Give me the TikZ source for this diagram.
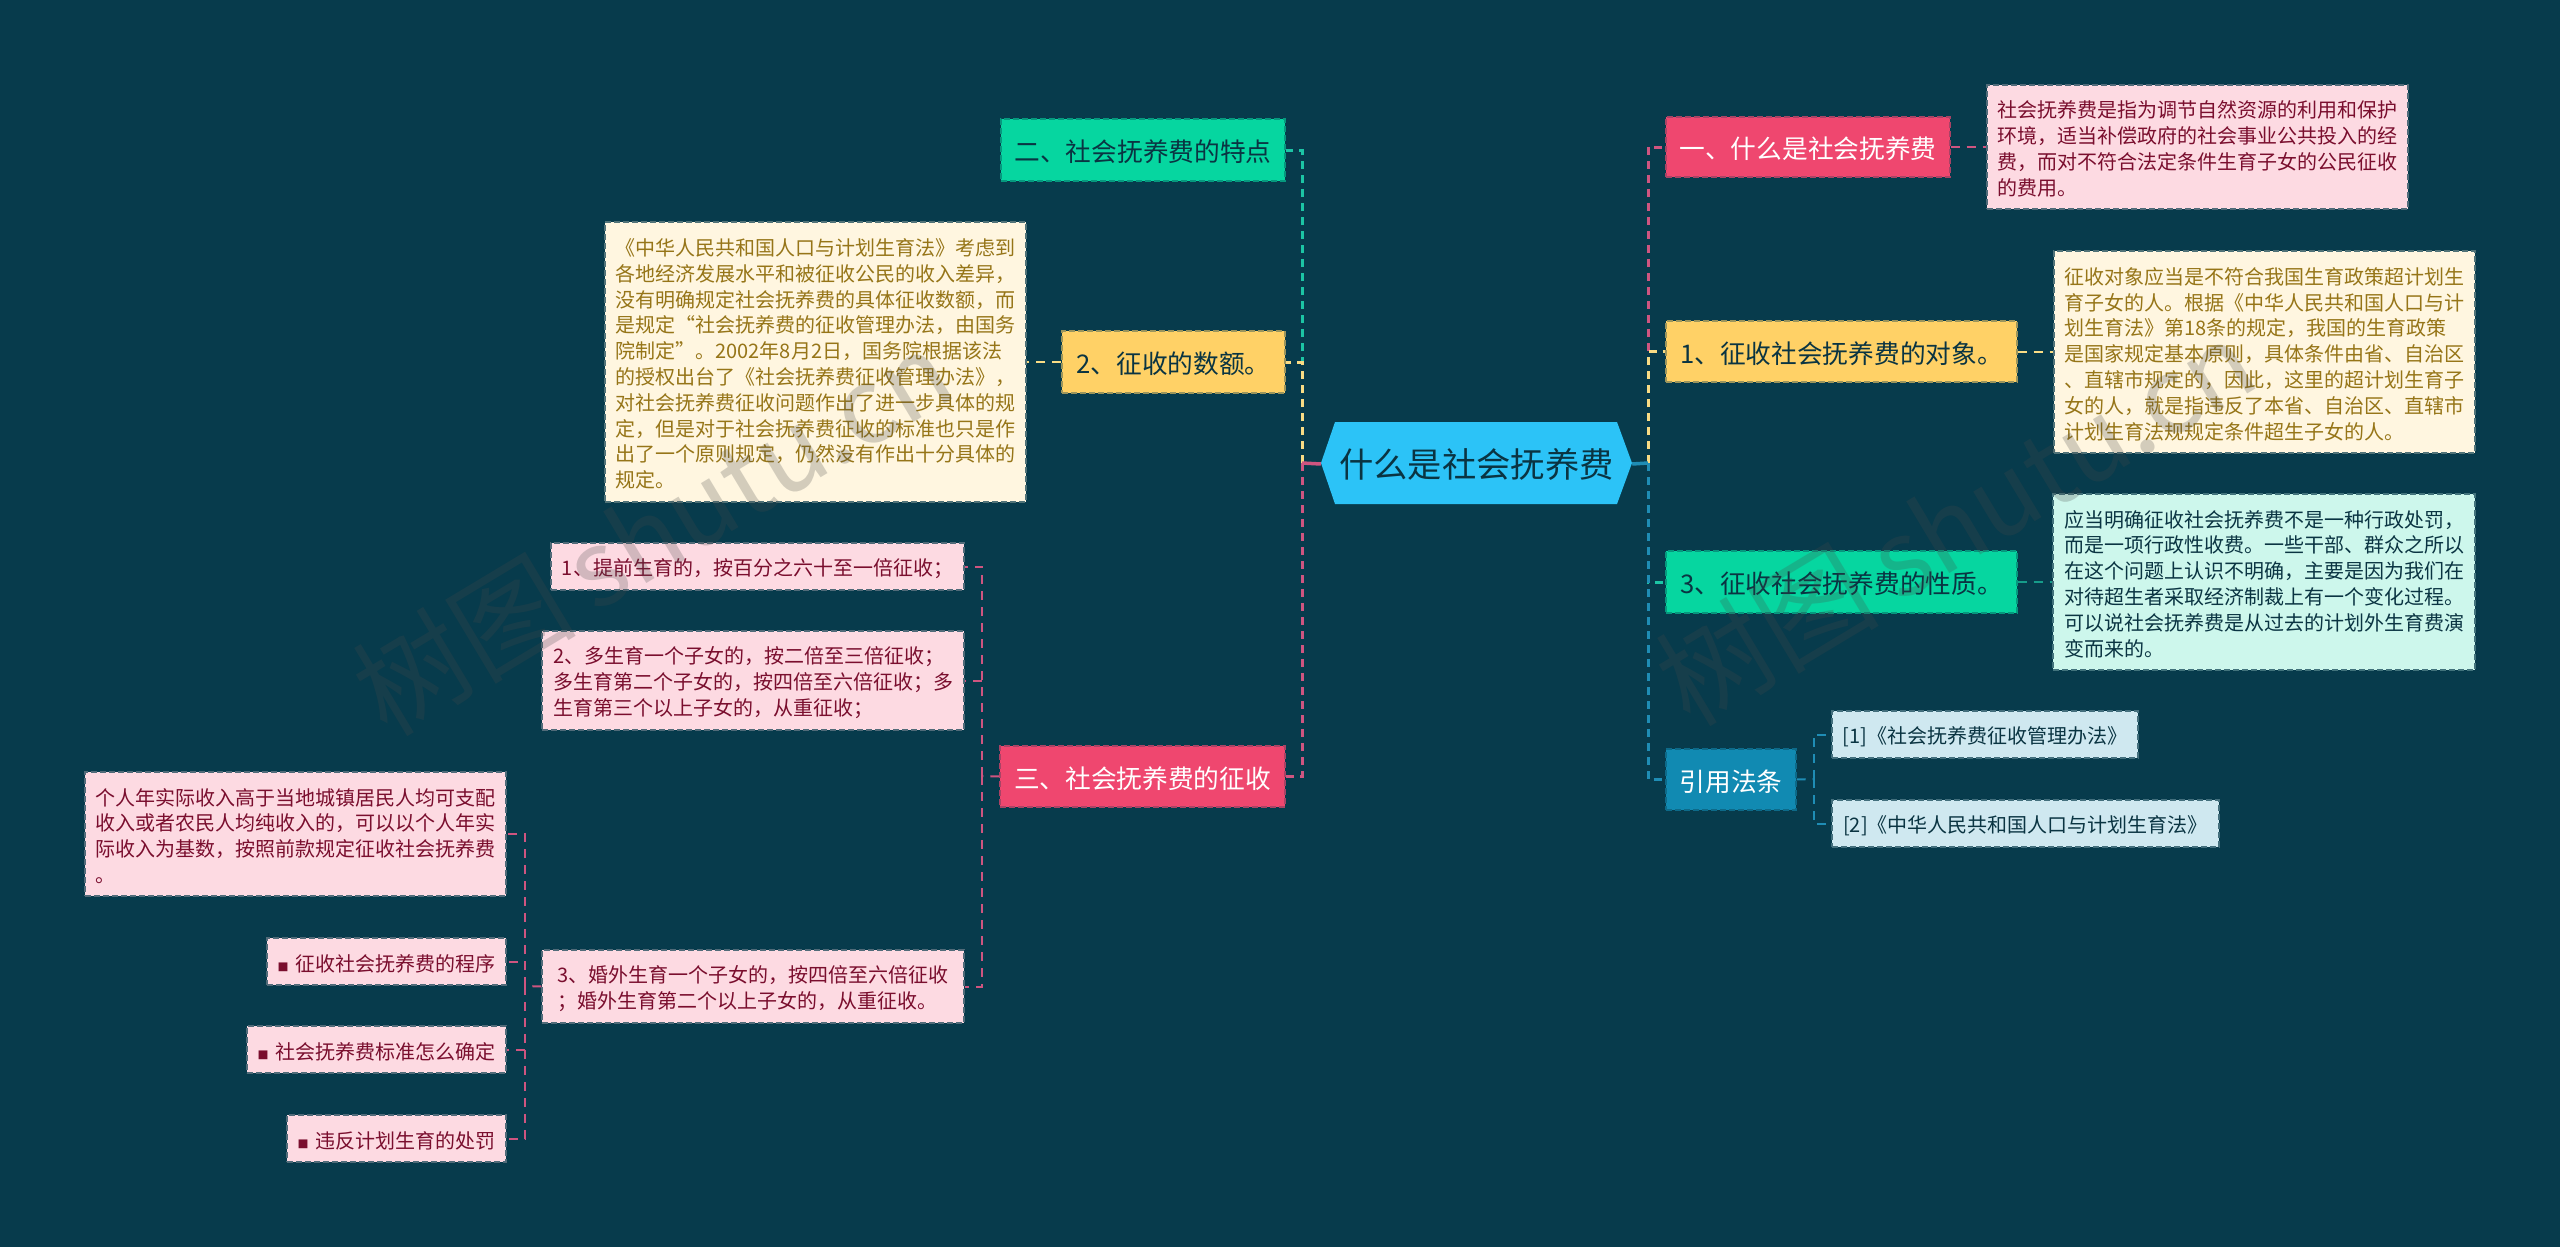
\documentclass[tikz,border=0pt]{standalone}
\usepackage{fontspec}
\setmainfont{Noto Sans CJK SC}
\definecolor{bgc}{HTML}{073B4C}
\definecolor{rootc}{HTML}{2CC3F7}
\definecolor{pinkc}{HTML}{EF476F}
\definecolor{yelc}{HTML}{FFD166}
\definecolor{grnc}{HTML}{06D6A0}
\definecolor{bluc}{HTML}{118AB2}
\definecolor{pinkl}{HTML}{FDDAE2}
\definecolor{yell}{HTML}{FFF6E0}
\definecolor{grnl}{HTML}{CDF7EC}
\definecolor{blul}{HTML}{CFE8F0}
\definecolor{pinkt}{HTML}{7A0E2E}
\definecolor{yelt}{HTML}{967518}
\definecolor{darkt}{HTML}{0A3442}
\definecolor{linkp}{HTML}{CF5580}
\definecolor{linky}{HTML}{F9DC85}
\definecolor{linkg}{HTML}{1CC5A5}
\definecolor{linkb}{HTML}{1F8DB5}
\definecolor{wmc}{HTML}{484848}
\tikzset{
  boxbase/.style={rectangle,inner sep=0pt,align=left,line width=1.3pt,dash pattern=on 6pt off 3pt},
  title/.style={boxbase,font={\fontsize{25.7}{32}\selectfont}},
  titlepink/.style={title,fill=pinkc,draw=pinkc!70!bgc,text=white},
  titleyel/.style={title,fill=yelc,draw=yelc!60!bgc,text=darkt},
  titlegrn/.style={title,fill=grnc,draw=grnc!60!bgc,text=darkt},
  titleblu/.style={title,fill=bluc,draw=bluc!60!bgc,text=white},
  leaf/.style={boxbase,font={\fontsize{20}{25.8}\selectfont}},
  leafpink/.style={leaf,fill=pinkl,draw=bgc!70!pinkl,text=pinkt},
  leafyel/.style={leaf,fill=yell,draw=bgc!70!yell,text=yelt},
  leafgrn/.style={leaf,fill=grnl,draw=bgc!70!grnl,text=darkt},
  leafblu/.style={leaf,fill=blul,draw=bgc!70!blul,text=darkt},
  boxtext/.style={draw=none,fill=none,minimum width=0pt,minimum height=0pt,yshift=-2pt},
  trunk/.style={line width=3pt,dash pattern=on 8pt off 6pt},
  twig/.style={line width=2pt,dash pattern=on 9pt off 7pt},
  rootlink/.style={line width=3.5pt},
  wmark/.style={font={\fontsize{105}{105}\selectfont},rotate=31,text=wmc,opacity=.24,inner sep=0pt}
}
\newcommand{\mmbox}[7]{%
  \pgfmathsetmacro{\mmw}{#4-#2}\pgfmathsetmacro{\mmh}{#5-#3}%
  \pgfmathsetmacro{\mmx}{(#2+#4)/2}\pgfmathsetmacro{\mmy}{(#3+#5)/2}%
  \node[#6,minimum width=\mmw pt,minimum height=\mmh pt] (#1) at (\mmx,\mmy) {};
  \node[#6,boxtext] (#1t) at (#1.center) {#7};}
\newcommand{\mmsq}{\textcolor{pinkt}{\fontsize{11}{11}\selectfont ■}\hspace{7pt}}
\begin{document}
\begin{tikzpicture}[x=1pt,y=-1pt]
\useasboundingbox (0,0) rectangle (2560,1247);
\fill[bgc] (0,0) rectangle (2560,1247);
% root
\fill[rootc] (1321,463) -- (1335,422) -- (1617,422) -- (1632,463) -- (1617,504) -- (1335,504) -- cycle;
\node[inner sep=0pt,minimum width=311pt,minimum height=82pt,font={\fontsize{34.3}{40}\selectfont},text=darkt] (root) at (1476.5,464) {什么是社会抚养费};
% titles
\mmbox{a1}{1666}{117}{1950}{177}{titlepink}{一、什么是社会抚养费}
\mmbox{a2}{1666}{321}{2017}{382}{titleyel}{1、征收社会抚养费的对象。}
\mmbox{a3}{1666}{551}{2017}{613}{titlegrn}{3、征收社会抚养费的性质。}
\mmbox{a4}{1666}{749}{1796}{810}{titleblu}{引用法条}
\mmbox{b1}{1001}{119}{1285}{181}{titlegrn}{二、社会抚养费的特点}
\mmbox{b2}{1062}{331}{1285}{393}{titleyel}{2、征收的数额。}
\mmbox{b3}{1000}{746}{1285}{807}{titlepink}{三、社会抚养费的征收}
% right leaves
\mmbox{ra1}{1987}{85}{2408}{209}{leafpink}{社会抚养费是指为调节自然资源的利用和保护\\环境，适当补偿政府的社会事业公共投入的经\\费，而对不符合法定条件生育子女的公民征收\\的费用。}
\mmbox{ra2}{2054}{251}{2475}{453}{leafyel}{征收对象应当是不符合我国生育政策超计划生\\育子女的人。根据《中华人民共和国人口与计\\划生育法》第18条的规定，我国的生育政策\\是国家规定基本原则，具体条件由省、自治区\\、直辖市规定的，因此，这里的超计划生育子\\女的人，就是指违反了本省、自治区、直辖市\\计划生育法规规定条件超生子女的人。}
\mmbox{ra3}{2053}{494}{2475}{670}{leafgrn}{应当明确征收社会抚养费不是一种行政处罚，\\而是一项行政性收费。一些干部、群众之所以\\在这个问题上认识不明确，主要是因为我们在\\对待超生者采取经济制裁上有一个变化过程。\\可以说社会抚养费是从过去的计划外生育费演\\变而来的。}
\mmbox{ra4}{1832}{711}{2138}{758}{leafblu}{[1]《社会抚养费征收管理办法》}
\mmbox{ra5}{1832}{800}{2219}{847}{leafblu}{[2]《中华人民共和国人口与计划生育法》}
% left leaves
\mmbox{lb2}{605}{222}{1026}{502}{leafyel}{《中华人民共和国人口与计划生育法》考虑到\\各地经济发展水平和被征收公民的收入差异，\\没有明确规定社会抚养费的具体征收数额，而\\是规定“社会抚养费的征收管理办法，由国务\\院制定”。2002年8月2日，国务院根据该法\\的授权出台了《社会抚养费征收管理办法》，\\对社会抚养费征收问题作出了进一步具体的规\\定，但是对于社会抚养费征收的标准也只是作\\出了一个原则规定，仍然没有作出十分具体的\\规定。}
\mmbox{c1}{551}{543}{964}{590}{leafpink}{1、提前生育的，按百分之六十至一倍征收；}
\mmbox{c2}{542}{631}{964}{730}{leafpink}{2、多生育一个子女的，按二倍至三倍征收；\\多生育第二个子女的，按四倍至六倍征收；多\\生育第三个以上子女的，从重征收；}
\mmbox{c3}{542}{950}{964}{1023}{leafpink}{3、婚外生育一个子女的，按四倍至六倍征收\\；婚外生育第二个以上子女的，从重征收。}
\mmbox{d1}{85}{772}{506}{896}{leafpink}{个人年实际收入高于当地城镇居民人均可支配\\收入或者农民人均纯收入的，可以以个人年实\\际收入为基数，按照前款规定征收社会抚养费\\。}
\mmbox{d2}{267}{938}{506}{985}{leafpink}{\mmsq 征收社会抚养费的程序}
\mmbox{d3}{247}{1026}{506}{1073}{leafpink}{\mmsq 社会抚养费标准怎么确定}
\mmbox{d4}{287}{1115}{506}{1162}{leafpink}{\mmsq 违反计划生育的处罚}
% junction points
\coordinate (tr) at (1648,463);
\coordinate (tl) at (1302,463);
\coordinate (bc) at (982,776);
\coordinate (bd) at (525,986);
\coordinate (br) at (1813.5,779);
% root trunks
\draw[linkp,trunk] (tr) |- (a1.west);
\draw[linky,trunk] (tr) |- (a2.west);
\draw[linkg,trunk] (tr) |- (a3.west);
\draw[linkb,trunk] (tr) |- (a4.west);
\draw[linkg,trunk] (tl) |- (b1.east);
\draw[linky,trunk] (tl) |- (b2.east);
\draw[linkp,trunk] (tl) |- (b3.east);
\draw[linkb,rootlink] (root.east) -- (tr);
\draw[linkp,rootlink] (root.west) -- (tl);
% twigs
\draw[linkp,twig] (a1.east) -- (a1.east -| ra1.west);
\draw[linky,twig] (a2.east) -- (a2.east -| ra2.west);
\draw[linkg!70!bgc,twig] (a3.east) -- (a3.east -| ra3.west);
\draw[linkb,twig] (a4.east) -- (br);
\draw[linkb,twig] (br) |- (ra4.west);
\draw[linkb,twig] (br) |- (ra5.west);
\draw[linky,twig] (b2.west) -- (b2.west -| lb2.east);
\draw[linkp,twig] (b3.west) -- (bc);
\draw[linkp,twig] (bc) |- (c1.east);
\draw[linkp,twig] (bc) |- (c2.east);
\draw[linkp,twig] (bc) |- (c3.east);
\draw[linkp,twig] (c3.west) -- (bd);
\draw[linkp,twig] (bd) |- (d1.east);
\draw[linkp,twig] (bd) |- (d2.east);
\draw[linkp,twig] (bd) |- (d3.east);
\draw[linkp,twig] (bd) |- (d4.east);
% watermark
\node[wmark] (w1) at (652,530) {{\fontsize{112}{112}\selectfont 树图}\hspace{-4pt} shutu.cn};
\node[wmark] (w2) at (1955,520) {{\fontsize{112}{112}\selectfont 树图}\hspace{-4pt} shutu.cn};
\end{tikzpicture}
\end{document}
